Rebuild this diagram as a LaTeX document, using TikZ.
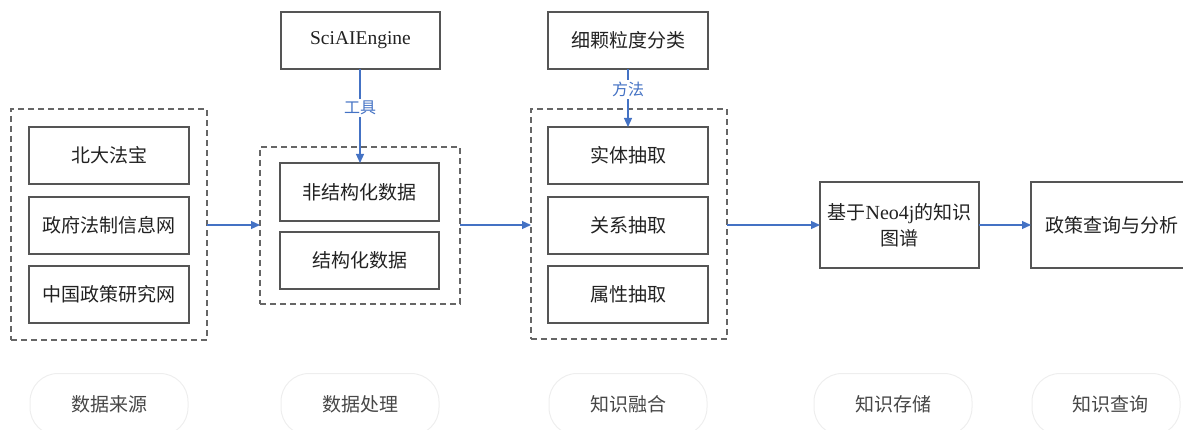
\documentclass[tikz,border=0pt]{standalone}
\usepackage{fontspec}
\setmainfont{Liberation Serif}
\newfontfamily\cjk{Noto Sans CJK SC}
\usetikzlibrary{arrows.meta}
\definecolor{arrowblue}{HTML}{4472C4}
\definecolor{boxline}{HTML}{555555}
\definecolor{dashline}{HTML}{666666}
\definecolor{pillline}{HTML}{EEEEEE}
\definecolor{txt}{HTML}{222222}
\tikzset{
  box/.style={draw=boxline, line width=1.2pt, inner sep=0pt, outer sep=0pt,
    minimum width=#1, font=\cjk\fontsize{19}{26}\selectfont, text=txt, align=center},
  box/.default=160pt,
  group/.style={draw=dashline, line width=1.2pt, dash pattern=on 6pt off 4pt,
    inner sep=0pt, outer sep=0pt},
  flow/.style={draw=arrowblue, line width=1.2pt, -{Triangle[length=9pt,width=8pt]}},
  lbl/.style={fill=white, text=arrowblue, font=\cjk\fontsize{16}{18}\selectfont, inner sep=2pt},
  pill/.style={draw=pillline, line width=1pt, rounded corners=28pt, minimum width=158pt,
    minimum height=62pt, inner sep=0pt, anchor=north},
  pilltext/.style={font=\cjk\fontsize{19}{22}\selectfont, text=black!72}
}
\begin{document}
\begin{tikzpicture}[x=1pt,y=-1pt]
\useasboundingbox (0,0) rectangle (1183,430);
% group 1: data sources
\node[group, minimum width=196pt, minimum height=231pt] (g1) at (109,224.5) {};
\node[box, minimum height=57pt] (s1) at (109,155.5) {北大法宝};
\node[box, minimum height=57pt] (s2) at (109,225.5) {政府法制信息网};
\node[box, minimum height=57pt] (s3) at (109,294.5) {中国政策研究网};
% group 2: data processing
\node[group, minimum width=200pt, minimum height=157pt] (g2) at (360,225.5) {};
\node[box=159pt, minimum height=58pt] (p1) at (359.5,192) {非结构化数据};
\node[box=159pt, minimum height=57pt] (p2) at (359.5,260.5) {结构化数据};
\node[box=159pt, minimum height=57pt, font=\fontsize{19.5}{22}\selectfont] (sci) at (360.5,40.5) {SciAIEngine};
% group 3: knowledge fusion
\node[group, minimum width=196pt, minimum height=230pt] (g3) at (629,224) {};
\node[box, minimum height=57pt] (k1) at (628,155.5) {实体抽取};
\node[box, minimum height=57pt] (k2) at (628,225.5) {关系抽取};
\node[box, minimum height=57pt] (k3) at (628,294.5) {属性抽取};
\node[box, minimum height=57pt] (fine) at (628,40.5) {细颗粒度分类};
% storage and query
\node[box=159pt, minimum height=86pt] (neo) at (899.5,225) {基于{\rmfamily\fontsize{20}{26}\selectfont Neo4j}的知识\\图谱};
\node[box=162pt, minimum height=86pt] (query) at (1112,225) {政策查询与分析};
% connectors
\draw[flow] (g1.east |- 0,225) -- (g2.west |- 0,225);
\draw[flow] (g2.east |- 0,225) -- (g3.west |- 0,225);
\draw[flow] (g3.east |- 0,225) -- (neo.west);
\draw[flow] (neo.east) -- (query.west);
\draw[flow] (sci.south -| 360,0) -- node[lbl, pos=0.41] {工具} (p1.north -| 360,0);
\draw[flow] (fine.south) -- node[lbl, pos=0.36] {方法} (k1.north);
% bottom stage labels
\node[pill] (b1) at (109,373) {};
\node[pilltext] (t1) at (109,404) {数据来源};
\node[pill] (b2) at (360,373) {};
\node[pilltext] (t2) at (360,404) {数据处理};
\node[pill] (b3) at (628,373) {};
\node[pilltext] (t3) at (628,404) {知识融合};
\node[pill] (b4) at (893,373) {};
\node[pilltext] (t4) at (893,404) {知识存储};
\node[pill, minimum width=148pt] (b5) at (1106,373) {};
\node[pilltext] (t5) at (1110,404) {知识查询};
\end{tikzpicture}
\end{document}
